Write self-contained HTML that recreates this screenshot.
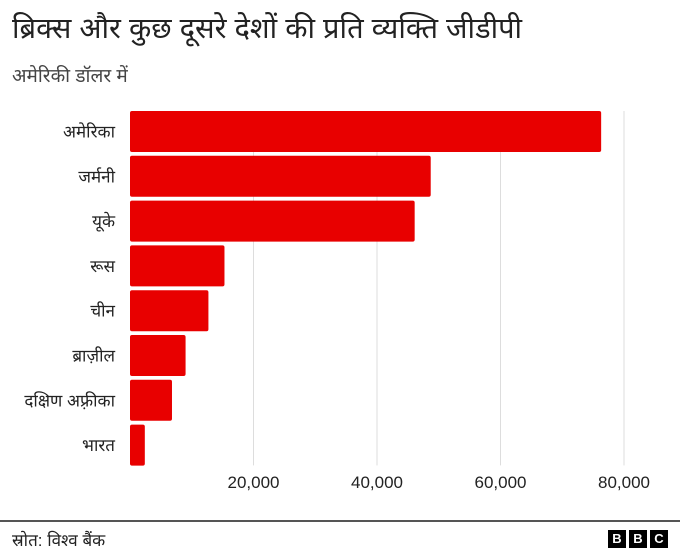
<!DOCTYPE html>
<html><head><meta charset="utf-8"><style>
body{margin:0;width:680px;height:557px;background:#fff;font-family:"Liberation Sans","Noto Sans CJK SC",sans-serif;position:relative;overflow:hidden}
.t{position:absolute;left:12px;top:8px;font-size:29px;color:#222;font-family:"Liberation Sans","Noto Sans CJK SC","DejaVu Sans",sans-serif}
.s{position:absolute;left:12px;top:62px;font-size:19px;color:#444;font-family:"Liberation Sans","Noto Sans CJK SC","DejaVu Sans",sans-serif}
svg text{font-family:"Liberation Sans","Noto Sans CJK SC","DejaVu Sans",sans-serif}
.foot{position:absolute;left:0;right:0;top:520px;border-top:2px solid #555}
.src{position:absolute;left:12px;top:528px;font-size:17px;color:#222;font-family:"Liberation Sans","Noto Sans CJK SC","DejaVu Sans",sans-serif}
.bbc{position:absolute;right:12px;top:530px;display:flex;gap:3px}
.bbc span{width:18px;height:18px;background:#000;color:#fff;font-weight:bold;font-size:13px;text-align:center;line-height:18px}
</style></head><body>
<div class="t">ब्रिक्स और कुछ दूसरे देशों की प्रति व्यक्ति जीडीपी</div>
<div class="s">अमेरिकी डॉलर में</div>
<svg id="c" width="680" height="520" style="position:absolute;left:0;top:0"></svg>
<div class="foot"></div>
<div class="src">स्रोत: विश्व बैंक</div>
<div class="bbc"><span>B</span><span>B</span><span>C</span></div>
<script>
const categories=["अमेरिका","जर्मनी","यूके","रूस","चीन","ब्राज़ील","दक्षिण अफ़्रीका","भारत"];
const values=[76300,48700,46100,15300,12700,9000,6800,2400];
const ticks=[20000,40000,60000,80000];
const tickLabels=["20,000","40,000","60,000","80,000"];
const svg=document.getElementById('c');
const NS='http://www.w3.org/2000/svg';
const x0=130,x1=624,xmax=80000;
const x=v=>x0+(x1-x0)*v/xmax;
const yTop=111,band=44.8,bh=41;
const y=i=>yTop+i*band;
ticks.forEach((t,i)=>{
  const l=document.createElementNS(NS,'line');
  l.setAttribute('x1',x(t));l.setAttribute('x2',x(t));
  l.setAttribute('y1',yTop);l.setAttribute('y2',y(categories.length)-4);
  l.setAttribute('stroke','#ddd');l.setAttribute('stroke-width','1');
  
  
  svg.appendChild(l);
  const tx=document.createElementNS(NS,'text');
  tx.setAttribute('x',x(t));tx.setAttribute('y',488);
  tx.setAttribute('text-anchor','middle');tx.setAttribute('font-size','17');tx.setAttribute('fill','#222');
  tx.textContent=tickLabels[i];
  
  
  svg.appendChild(tx);
});
categories.forEach((c,i)=>{
  const r=document.createElementNS(NS,'rect');
  r.setAttribute('x',x0);r.setAttribute('y',y(i));
  r.setAttribute('width',x(values[i])-x0);r.setAttribute('height',bh);
  r.setAttribute('rx','2');r.setAttribute('fill','#e80000');
  
  
  svg.appendChild(r);
  const tx=document.createElementNS(NS,'text');
  tx.setAttribute('x',115);tx.setAttribute('y',y(i)+bh/2+6);
  tx.setAttribute('text-anchor','end');tx.setAttribute('font-size','17');tx.setAttribute('fill','#222');
  tx.textContent=c;
  
  
  svg.appendChild(tx);
});
</script>
</body></html>
